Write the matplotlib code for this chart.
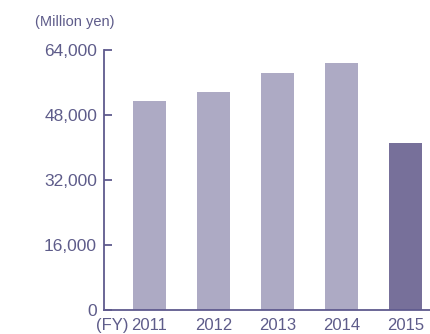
import matplotlib
matplotlib.use('Agg')
import matplotlib.pyplot as plt

years = ['2011', '2012', '2013', '2014', '2015']
values = [51400, 53700, 58300, 60800, 41100]
bar_colors = ['#adaac4', '#adaac4', '#adaac4', '#adaac4', '#77709a']
yticks = [0, 16000, 32000, 48000, 64000]

text_color = '#5e5c8a'
axis_color = '#5f5a8e'

plt.rcParams['font.family'] = ['Liberation Sans', 'DejaVu Sans']

fig = plt.figure(figsize=(4.3, 3.34), dpi=100)
ax = fig.add_axes([104 / 430, 24 / 334, 326 / 430, 260 / 334])

x = list(range(len(years)))
ax.bar(x, values, width=0.52, color=bar_colors)

ax.set_xlim(-0.711, 4.383)
ax.set_ylim(0, 64000)
ax.set_yticks(yticks)
ax.set_yticklabels([f'{v:,}' for v in yticks])
ax.set_xticks(x)
ax.set_xticklabels(years)

for side in ['top', 'right']:
    ax.spines[side].set_visible(False)
for side in ['left', 'bottom']:
    ax.spines[side].set_color(axis_color)
    ax.spines[side].set_linewidth(1.3)

ax.tick_params(axis='y', direction='in', length=6, width=1.3, color=axis_color,
               labelcolor=text_color, labelsize=12.5, pad=5)
ax.tick_params(axis='x', length=0, labelcolor=text_color, labelsize=12, pad=6)

ax.annotate('(FY)', xy=(0, 0), xycoords=('data', 'axes fraction'),
            xytext=(-15, -6), textcoords='offset points',
            ha='right', va='top', color=text_color, fontsize=12)

fig.text(35 / 430, 1 - 22 / 334, '(Million yen)', ha='left', va='center',
         color=text_color, fontsize=10.5)

fig.savefig('out.png', dpi=100)
